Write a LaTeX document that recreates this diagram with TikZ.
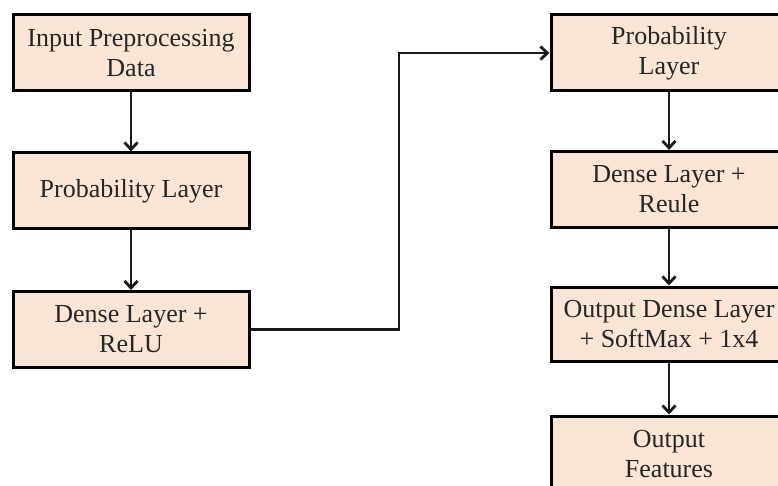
\documentclass[tikz,border=0pt]{standalone}
\usepackage{fontspec}
\setmainfont{Liberation Serif}
\usetikzlibrary{arrows.meta}
\definecolor{boxfill}{HTML}{FBE5D6}
\definecolor{txt}{HTML}{262626}
\begin{document}
\begin{tikzpicture}[x=1pt,y=-1pt,
  blk/.style={draw=black, line width=3pt, fill=boxfill, minimum width=236pt, minimum height=76pt,
    inner sep=0pt, align=center, text=txt, font=\fontsize{26}{30}\selectfont},
  conn/.style={draw=black!90, line width=2.6pt, -{Straight Barb[length=7pt,width=13pt,line width=2.8pt]}}]
\useasboundingbox (0,0) rectangle (778,486);
\clip (0,0) rectangle (778,486);
\node[blk] (L1) at (131,53) {Input Preprocessing\\Data};
\node[blk] (L2) at (131,191) {Probability Layer};
\node[blk] (L3) at (131,329.5) {Dense Layer +\\ReLU};
\node[blk] (R1) at (669,53) {Probability\\Layer};
\node[blk] (R2) at (669,189.5) {Dense Layer +\\Reule};
\node[blk, minimum height=74pt] (R3) at (669,324) {Output Dense Layer\\+ SoftMax + 1x4};
\node[blk] (R4) at (669,454) {Output\\Features};
\coordinate (bend) at (399,0);
\draw[conn] (L1) -- (L2);
\draw[conn] (L2) -- (L3);
\draw[conn] (L3.east) -- (L3.east -| bend) |- (R1.west);
\draw[conn] (R1) -- (R2);
\draw[conn] (R2) -- (R3);
\draw[conn] (R3) -- (R4);
\end{tikzpicture}
\end{document}
